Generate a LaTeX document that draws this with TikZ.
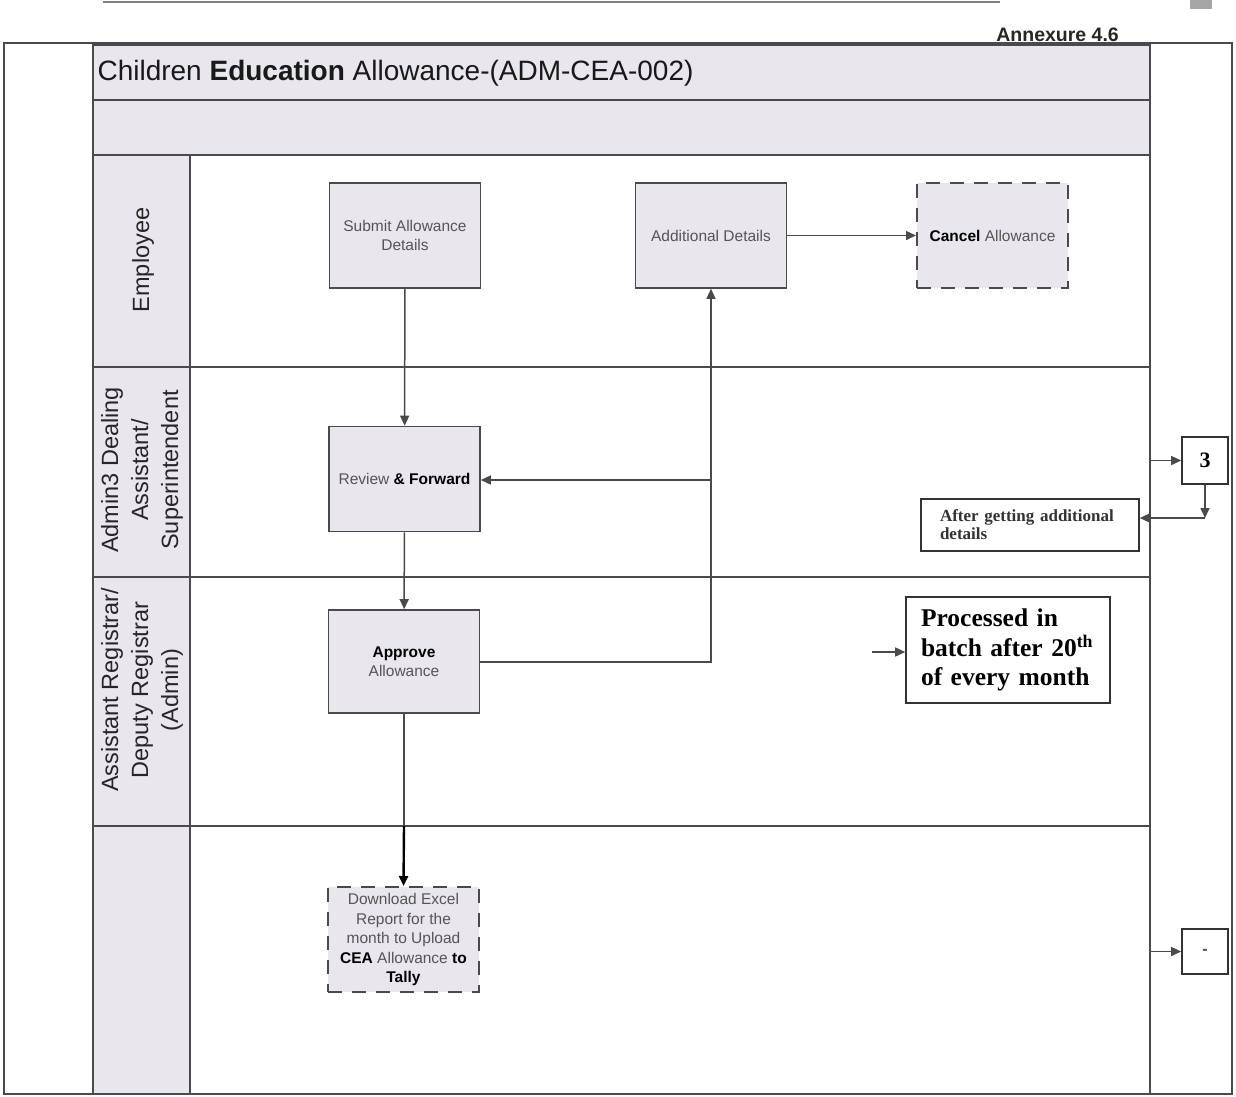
\documentclass[tikz,border=0pt]{standalone}
\usepackage{fontspec}
\setmainfont{Liberation Sans}
\newfontfamily\boxserif{Liberation Serif}
\usetikzlibrary{arrows.meta}
\definecolor{lav}{HTML}{EAE6EE}
\definecolor{edge}{HTML}{4A4A4A}
\definecolor{txt}{HTML}{555555}
\newcommand{\bk}[1]{\textcolor{black}{\textbf{#1}}}
\begin{document}
\begin{tikzpicture}[x=1pt,y=-1pt,
  task/.style={draw=edge, line width=1.6pt, fill=lav, minimum width=151pt,
    minimum height=105pt, align=center, text=txt, inner sep=2pt,
    font=\fontsize{15.5}{19.5}\selectfont},
  dashtask/.style={task, dash pattern=on 14pt off 10pt, line width=2pt},
  note/.style={draw=black!80, line width=1.6pt, fill=white, inner sep=4pt},
  lanelbl/.style={rotate=90, align=center, text=black!85,
    font=\fontsize{23.5}{30}\selectfont},
  flow/.style={draw=edge, line width=1.5pt, -{Triangle[length=10pt,width=9pt]}},
  lanerule/.style={draw=edge, line width=2pt}
]
\useasboundingbox (0,0) rectangle (1236,1096);

% torn header strip
\draw[gray, line width=1.5pt] (103,2) -- (1000,2);
\fill[gray!70] (1190,0) rectangle (1212,9);

\node[anchor=base east, font=\fontsize{19.5}{22}\selectfont\bfseries, text=black!85,
  inner sep=0pt] (annex) at (1119,41) {Annexure 4.6};

% outer frame
\draw[edge, line width=2.2pt] (4,43) rectangle (1232,1094);

% pool: title and description bands, lane header column
\fill[lav] (93,45) rectangle (1150,155);
\fill[lav] (93,155) rectangle (190,1094);
\draw[lanerule] (93,45) rectangle (1150,1094);
\draw[lanerule] (93,100) -- (1150,100);
\draw[lanerule] (93,155) -- (1150,155);
\draw[lanerule] (93,367) -- (1150,367);
\draw[lanerule] (93,577) -- (1150,577);
\draw[lanerule] (93,826) -- (1150,826);
\draw[lanerule] (190,155) -- (190,1094);

\node[anchor=west, font=\fontsize{28}{30}\selectfont, text=black!90] (title)
  at (94,73) {Children \textbf{Education} Allowance-(ADM-CEA-002)};

% lane labels
\node[lanelbl] (lane1) at (143,260) {Employee};
\node[lanelbl] (lane2) at (142,470) {Admin3 Dealing\\Assistant/\\Superintendent};
\node[lanelbl] (lane3) at (142,690) {Assistant Registrar/\\Deputy Registrar\\(Admin)};

% activities
\node[task] (submit) at (405,235.5) {Submit Allowance\\Details};
\node[task] (addl) at (711,235.5) {Additional Details};
\node[dashtask] (cancel) at (992.5,235.5) {\bk{Cancel} Allowance};
\node[task] (review) at (404.5,479) {Review \bk{\& Forward}};
\node[task, minimum height=103pt] (approve) at (404,661.5) {\bk{Approve}\\Allowance};
\node[dashtask] (download) at (403.5,939.5)
  {Download Excel\\Report for the\\month to Upload\\\bk{CEA} Allowance \bk{to}\\\bk{Tally}};

% notes outside the pool
\node[note, minimum width=46pt, minimum height=47pt,
  font=\boxserif\fontsize{22}{24}\selectfont\bfseries] (three) at (1205,460.5) {3};
\node[note, minimum width=46pt, minimum height=45pt,
  font=\fontsize{16}{18}\selectfont\bfseries, text=black!70] (dash) at (1205,951.5) {-};
\node[note, minimum width=218pt, minimum height=52pt, align=left,
  text width=180pt, font=\boxserif\fontsize{17}{18}\selectfont\bfseries,
  text=black!80] (after) at (1030,525) {After getting additional\\details};
\node[note, minimum width=204pt, minimum height=106pt, align=left,
  text width=174pt, font=\boxserif\fontsize{25.5}{29.5}\selectfont\bfseries]
  (batch) at (1008,650) {Processed in\\batch after 20\textsuperscript{th}\\of every month};

% connector end points
\coordinate (split) at (711,480);
\coordinate (turn) at (711,662);
\coordinate (j) at (1205,518);
\coordinate (in3) at (1150,460.5);
\coordinate (indash) at (1150,951.5);
\coordinate (inbatch) at (872,652);

% flows
\draw[flow] (submit) -- (review);
\draw[flow] (review) -- (approve);
\draw[flow] (approve.east |- turn) -- (turn) -- (addl.south);
\draw[flow] (split) -- (review.east |- split);
\draw[flow] (addl) -- (cancel);
\draw[draw=edge, line width=1.5pt] (approve.south) -- (404,826);
\draw[flow, line width=2.4pt, draw=black] (404,826) -- (download.north);
\draw[flow] (in3) -- (three.west);
\draw[flow] (three.south) -- (j);
\draw[flow] (j) -- (after.east |- j);
\draw[flow] (inbatch) -- (batch.west |- inbatch);
\draw[flow] (indash) -- (dash.west);
\end{tikzpicture}
\end{document}
